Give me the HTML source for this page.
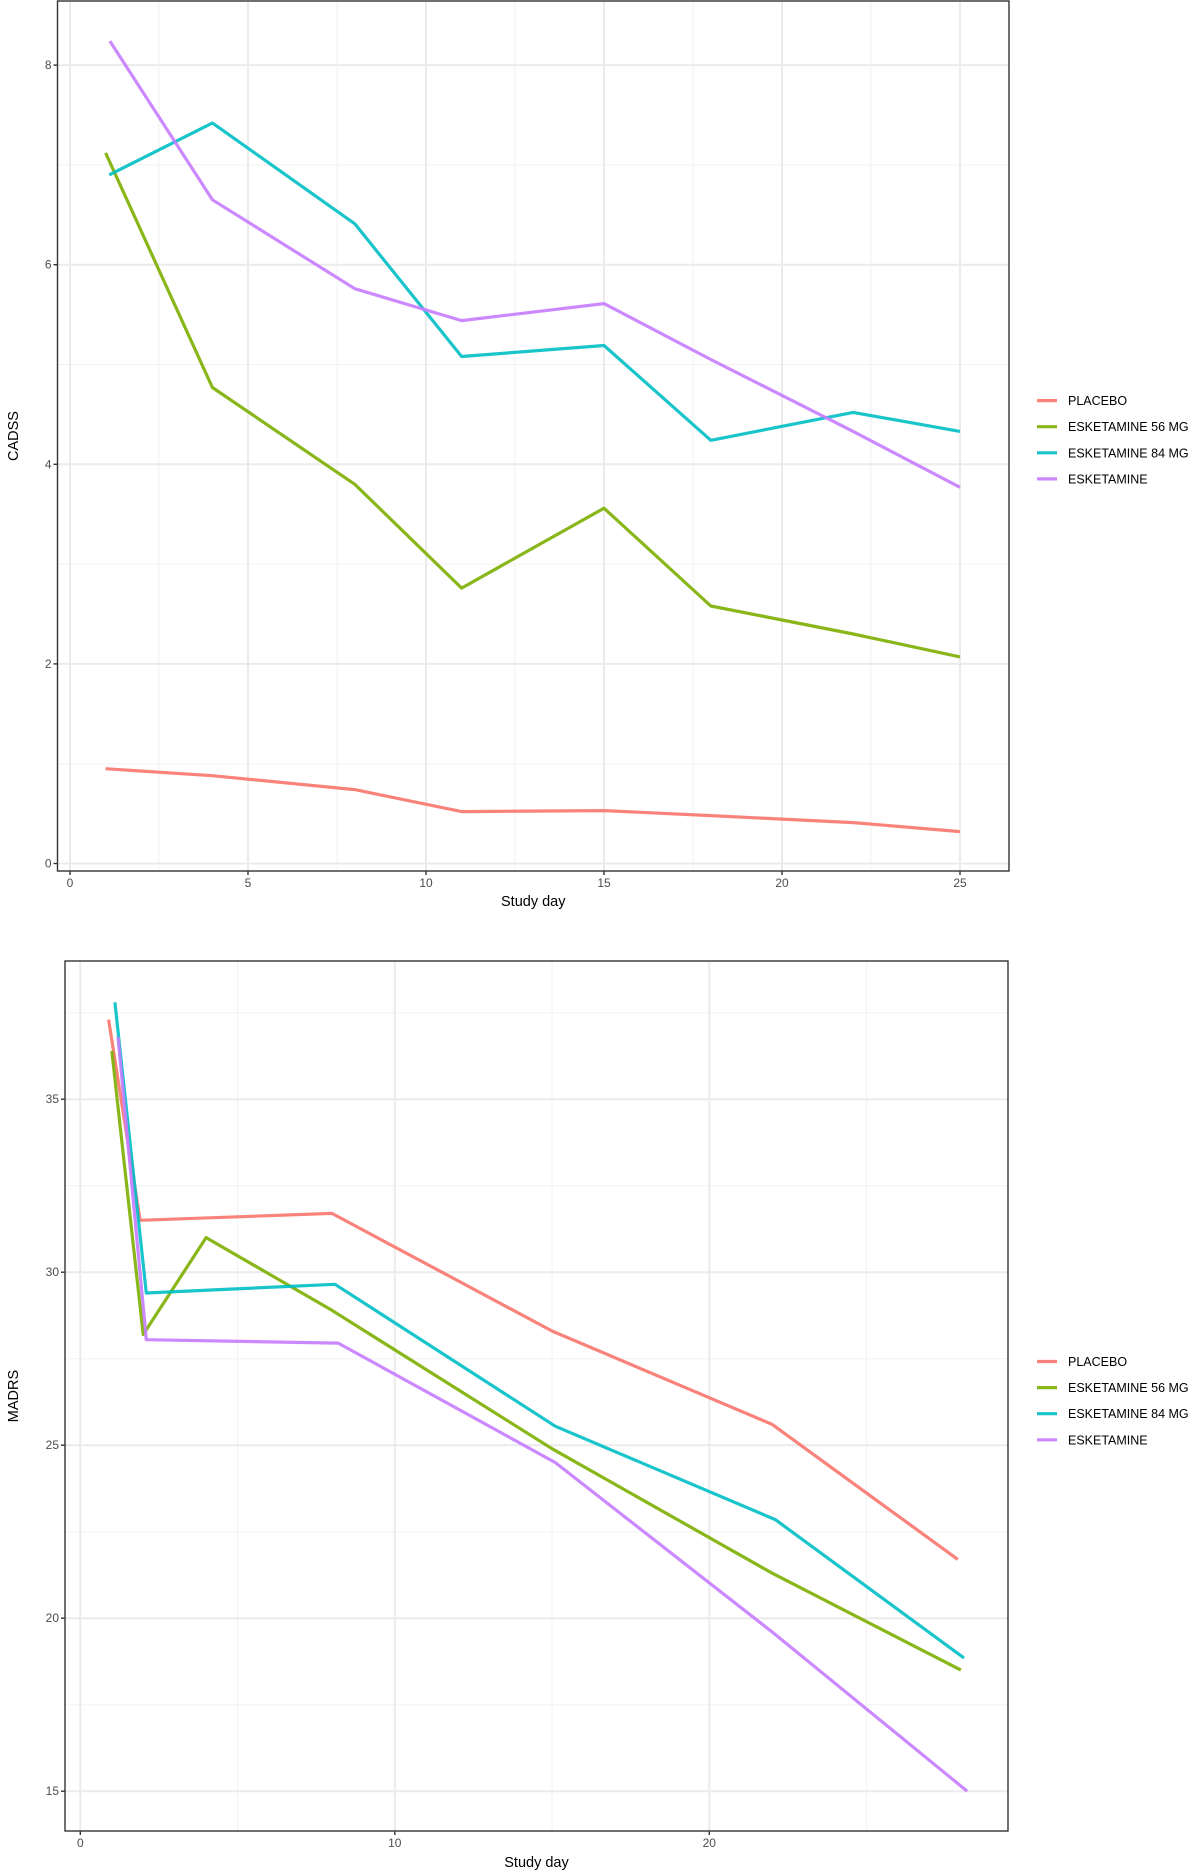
<!DOCTYPE html>
<html><head><meta charset="utf-8"><style>
body{margin:0;background:#fff;}
svg{display:block;font-family:"Liberation Sans",sans-serif;}
</style></head><body>
<svg id="chart" width="1200" height="1873" viewBox="0 0 1200 1873"></svg>
<script>
const seriesNames = ["PLACEBO","ESKETAMINE 56 MG","ESKETAMINE 84 MG","ESKETAMINE"];
const seriesColors = ["#F8766D","#7CAE00","#00BFC4","#C77CFF"];
// Top chart (CADSS)
const cadssPlaceboX = [1,4,8,11,15,18,22,25];
const cadssPlaceboY = [0.95,0.88,0.74,0.52,0.53,0.48,0.41,0.32];
const cadss56X = [1,4,8,11,15,18,22,25];
const cadss56Y = [7.12,4.77,3.80,2.76,3.56,2.58,2.30,2.07];
const cadss84X = [1.1,4,8,11,15,18,22,25];
const cadss84Y = [6.90,7.42,6.41,5.08,5.19,4.24,4.52,4.33];
const cadssEskX = [1.12,4,8,11,15,18,22,25];
const cadssEskY = [8.24,6.65,5.76,5.44,5.61,5.05,4.33,3.77];
const cadssXTicks = [0,5,10,15,20,25];
const cadssYTicks = [0,2,4,6,8];
// Bottom chart (MADRS)
const madrsPlaceboX = [0.9,1.9,8,15,22,27.9];
const madrsPlaceboY = [37.3,31.5,31.7,28.3,25.6,21.7];
const madrs56X = [1,2,4,8,15,22,28];
const madrs56Y = [36.4,28.2,31.0,28.9,24.9,21.3,18.5];
const madrs84X = [1.1,2.1,8.1,15.1,22.1,28.1];
const madrs84Y = [37.8,29.4,29.65,25.55,22.85,18.85];
const madrsEskX = [1.2,2.1,8.2,15.1,22,28.2];
const madrsEskY = [36.8,28.05,27.95,24.5,19.6,15.0];
const madrsXTicks = [0,10,20];
const madrsYTicks = [15,20,25,30,35];

const NS="http://www.w3.org/2000/svg";
const svg=document.getElementById('chart');
function mk(tag,attrs,parent){const e=document.createElementNS(NS,tag);for(const k in attrs)e.setAttribute(k,attrs[k]);(parent||svg).appendChild(e);return e;}

function drawPanel(cfg){
  const g=mk('g',{});
  
  
  const sx=v=>cfg.x0+(v)*cfg.xs;
  const sy=v=>cfg.y0-(v-cfg.yb)*cfg.ys;
  mk('rect',{x:cfg.L,y:cfg.T,width:cfg.R-cfg.L,height:cfg.B-cfg.T,fill:'#fff'},g);
  // minor grid
  for(const v of cfg.xMinor){const l=mk('line',{x1:sx(v),x2:sx(v),y1:cfg.T,y2:cfg.B,stroke:'#f2f2f2','stroke-width':1},g);}
  for(const v of cfg.yMinor){mk('line',{x1:cfg.L,x2:cfg.R,y1:sy(v),y2:sy(v),stroke:'#f2f2f2','stroke-width':1},g);}
  for(const v of cfg.xTicks){const l=mk('line',{x1:sx(v),x2:sx(v),y1:cfg.T,y2:cfg.B,stroke:'#ebebeb','stroke-width':2},g);
    }
  for(const v of cfg.yTicks){const l=mk('line',{x1:cfg.L,x2:cfg.R,y1:sy(v),y2:sy(v),stroke:'#ebebeb','stroke-width':2},g);
    }
  // series
  cfg.series.forEach((s,i)=>{
    const pts=s[0].map((x,j)=>sx(x).toFixed(1)+','+sy(s[1][j]).toFixed(1)).join(' ');
    const p=mk('polyline',{points:pts,fill:'none',stroke:seriesColors[i],'stroke-width':3.2,'stroke-linejoin':'round','stroke-opacity':0.9},g);
    
    
  });
  mk('rect',{x:cfg.L,y:cfg.T,width:cfg.R-cfg.L,height:cfg.B-cfg.T,fill:'none',stroke:'#333','stroke-width':1.4},g);
  // ticks
  for(const v of cfg.xTicks){mk('line',{x1:sx(v),x2:sx(v),y1:cfg.B,y2:cfg.B+4,stroke:'#333','stroke-width':1.4},g);
    const t=mk('text',{x:sx(v),y:cfg.B+16,'font-size':12,fill:'#4d4d4d','text-anchor':'middle'},g);t.textContent=v;
    }
  for(const v of cfg.yTicks){mk('line',{x1:cfg.L-4,x2:cfg.L,y1:sy(v),y2:sy(v),stroke:'#333','stroke-width':1.4},g);
    const t=mk('text',{x:cfg.L-6,y:sy(v)+4,'font-size':12,fill:'#4d4d4d','text-anchor':'end'},g);t.textContent=v;
    }
  const xt=mk('text',{x:(cfg.L+cfg.R)/2,y:cfg.xTitleY,'font-size':14.5,fill:'#000','text-anchor':'middle'},g);xt.textContent='Study day';
  
  const yt=mk('text',{x:0,y:0,'font-size':14.5,fill:'#000','text-anchor':'middle',transform:`translate(18,${(cfg.T+cfg.B)/2}) rotate(-90)`},g);yt.textContent=cfg.yTitle;
  
  // legend
  seriesNames.forEach((n,i)=>{
    const y=cfg.legY+i*26.1;
    const lg=mk('g',{},g);
    
    
    mk('line',{x1:1037,x2:1057,y1:y,y2:y,stroke:seriesColors[i],'stroke-width':3.2,'stroke-opacity':0.9},lg);
    const t=mk('text',{x:1068,y:y+4.5,'font-size':12.5,fill:'#000'},lg);t.textContent=n;
  });
}
drawPanel({name:'cadss',L:57.5,R:1009,T:1,B:871,x0:70,xs:35.6,y0:863.5,yb:0,ys:99.8,
  xTicks:cadssXTicks,yTicks:cadssYTicks,xMinor:[2.5,7.5,12.5,17.5,22.5],yMinor:[1,3,5,7],
  series:[[cadssPlaceboX,cadssPlaceboY],[cadss56X,cadss56Y],[cadss84X,cadss84Y],[cadssEskX,cadssEskY]],
  xTitleY:906,yTitle:'CADSS',legY:400.6});
drawPanel({name:'madrs',L:65,R:1008,T:961,B:1831,x0:80.3,xs:31.45,y0:1791.2,yb:15,ys:34.6,
  xTicks:madrsXTicks,yTicks:madrsYTicks,xMinor:[5,15,25],yMinor:[17.5,22.5,27.5,32.5,37.5],
  series:[[madrsPlaceboX,madrsPlaceboY],[madrs56X,madrs56Y],[madrs84X,madrs84Y],[madrsEskX,madrsEskY]],
  xTitleY:1867,yTitle:'MADRS',legY:1361.5});
</script>
</body></html>
